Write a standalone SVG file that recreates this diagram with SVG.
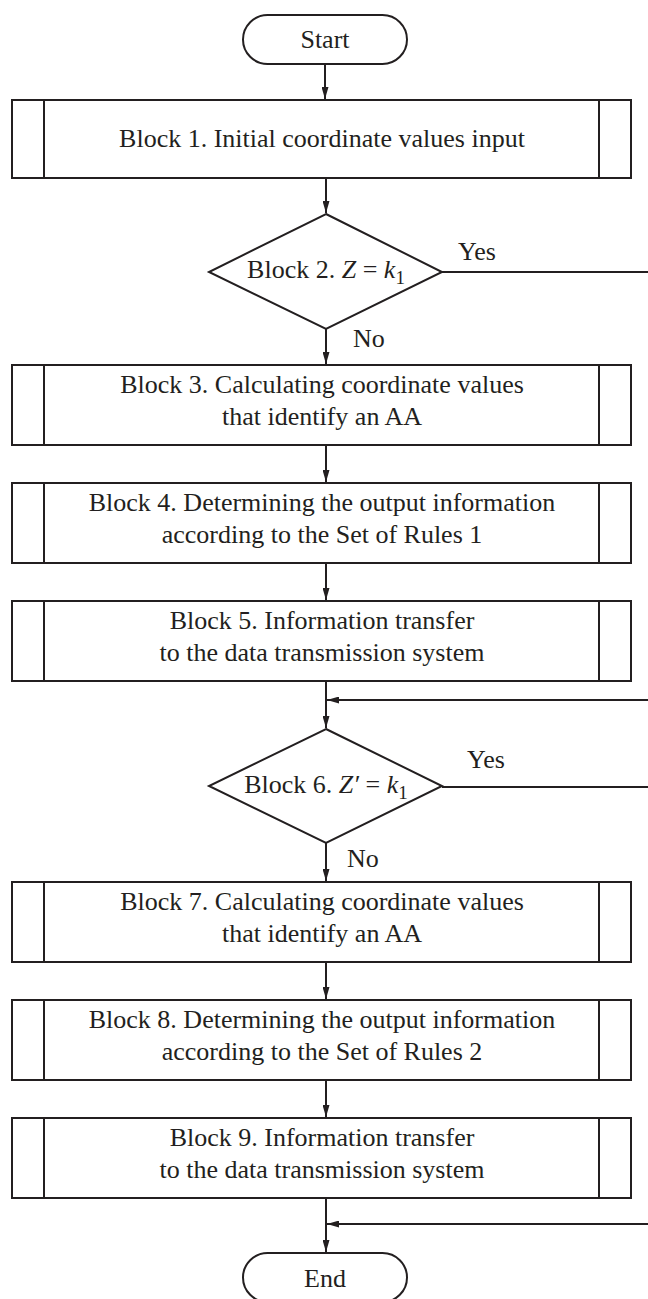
<svg xmlns="http://www.w3.org/2000/svg" width="648" height="1299" viewBox="0 0 648 1299">
<defs>
<style>
.s{fill:none;stroke:#231f20;stroke-width:2}
.b{fill:#fff;stroke:#231f20;stroke-width:2}
.t{font-family:"Liberation Serif","Times New Roman",serif;font-size:26px;fill:#231f20;text-anchor:middle}
.tl{font-family:"Liberation Serif","Times New Roman",serif;font-size:26px;fill:#231f20}
.i{font-style:italic}
</style>
<marker id="ah" viewBox="0 0 12 7" refX="12" refY="3.5" markerWidth="12" markerHeight="7" markerUnits="userSpaceOnUse" orient="auto">
<path d="M0,0 L12,3.5 L0,7 Z" fill="#231f20"/>
</marker>
</defs>
<rect width="648" height="1299" fill="#fff"/>
<g id="connectors">
<line class="s" x1="325" y1="64" x2="325" y2="99" marker-end="url(#ah)"/>
<line class="s" x1="326" y1="178" x2="326" y2="213" marker-end="url(#ah)"/>
<line class="s" x1="326" y1="329" x2="326" y2="364" marker-end="url(#ah)"/>
<line class="s" x1="442" y1="272" x2="648" y2="272"/>
<line class="s" x1="326" y1="445" x2="326" y2="482" marker-end="url(#ah)"/>
<line class="s" x1="326" y1="563" x2="326" y2="600" marker-end="url(#ah)"/>
<line class="s" x1="326" y1="681" x2="326" y2="728" marker-end="url(#ah)"/>
<line class="s" x1="648" y1="700" x2="327" y2="700" marker-end="url(#ah)"/>
<line class="s" x1="442" y1="787" x2="648" y2="787"/>
<line class="s" x1="326" y1="843" x2="326" y2="881" marker-end="url(#ah)"/>
<line class="s" x1="326" y1="962" x2="326" y2="999" marker-end="url(#ah)"/>
<line class="s" x1="326" y1="1080" x2="326" y2="1117" marker-end="url(#ah)"/>
<line class="s" x1="326" y1="1198" x2="326" y2="1252" marker-end="url(#ah)"/>
<line class="s" x1="648" y1="1224" x2="327" y2="1224" marker-end="url(#ah)"/>
<text class="tl" x="458" y="260">Yes</text>
<text class="tl" x="353" y="347">No</text>
<text class="tl" x="467" y="768">Yes</text>
<text class="tl" x="347" y="867">No</text>
</g>
<g id="start">
<rect class="b" x="243" y="15" width="164" height="49" rx="24.5"/>
<text class="t" x="325" y="48">Start</text>
</g>
<g id="block1">
<rect class="b" x="12" y="100" width="619" height="78"/>
<line class="s" x1="44" y1="100" x2="44" y2="178"/>
<line class="s" x1="599" y1="100" x2="599" y2="178"/>
<text class="t" x="322" y="147">Block 1. Initial coordinate values input</text>
</g>
<g id="block2">
<polygon class="b" points="326,214 442,272 326,329 209,272"/>
<text class="t" x="326" y="278">Block 2. <tspan class="i">Z</tspan> = <tspan class="i">k</tspan><tspan font-size="19" dy="6">1</tspan></text>
</g>
<g id="block3">
<rect class="b" x="12" y="365" width="619" height="80"/>
<line class="s" x1="44" y1="365" x2="44" y2="445"/>
<line class="s" x1="599" y1="365" x2="599" y2="445"/>
<text class="t" x="322" y="393">Block 3. Calculating coordinate values</text>
<text class="t" x="322" y="425">that identify an AA</text>
</g>
<g id="block4">
<rect class="b" x="12" y="483" width="619" height="80"/>
<line class="s" x1="44" y1="483" x2="44" y2="563"/>
<line class="s" x1="599" y1="483" x2="599" y2="563"/>
<text class="t" x="322" y="511">Block 4. Determining the output information</text>
<text class="t" x="322" y="543">according to the Set of Rules 1</text>
</g>
<g id="block5">
<rect class="b" x="12" y="601" width="619" height="80"/>
<line class="s" x1="44" y1="601" x2="44" y2="681"/>
<line class="s" x1="599" y1="601" x2="599" y2="681"/>
<text class="t" x="322" y="629">Block 5. Information transfer</text>
<text class="t" x="322" y="661">to the data transmission system</text>
</g>
<g id="block6">
<polygon class="b" points="326,729 442,786 326,843 209,786"/>
<text class="t" x="326" y="793">Block 6. <tspan class="i">Z′</tspan> = <tspan class="i">k</tspan><tspan font-size="19" dy="6">1</tspan></text>
</g>
<g id="block7">
<rect class="b" x="12" y="882" width="619" height="80"/>
<line class="s" x1="44" y1="882" x2="44" y2="962"/>
<line class="s" x1="599" y1="882" x2="599" y2="962"/>
<text class="t" x="322" y="910">Block 7. Calculating coordinate values</text>
<text class="t" x="322" y="942">that identify an AA</text>
</g>
<g id="block8">
<rect class="b" x="12" y="1000" width="619" height="80"/>
<line class="s" x1="44" y1="1000" x2="44" y2="1080"/>
<line class="s" x1="599" y1="1000" x2="599" y2="1080"/>
<text class="t" x="322" y="1028">Block 8. Determining the output information</text>
<text class="t" x="322" y="1060">according to the Set of Rules 2</text>
</g>
<g id="block9">
<rect class="b" x="12" y="1118" width="619" height="80"/>
<line class="s" x1="44" y1="1118" x2="44" y2="1198"/>
<line class="s" x1="599" y1="1118" x2="599" y2="1198"/>
<text class="t" x="322" y="1146">Block 9. Information transfer</text>
<text class="t" x="322" y="1178">to the data transmission system</text>
</g>
<g id="end">
<rect class="b" x="243" y="1253" width="164" height="49" rx="24.5"/>
<text class="t" x="325" y="1287">End</text>
</g>
</svg>
